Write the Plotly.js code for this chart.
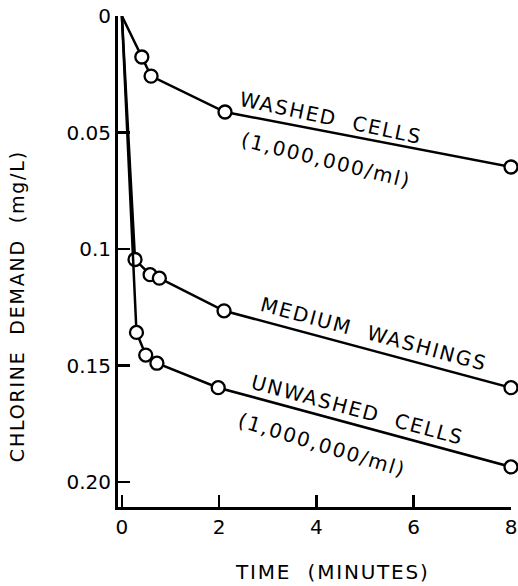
<!DOCTYPE html>
<html>
<head>
<meta charset="utf-8">
<script src="https://cdn.plot.ly/plotly-3.0.1.min.js"></script>
<style>
  html, body { margin: 0; padding: 0; background: #fff; }
  #chart { width: 518px; height: 586px; }
  .annotation-text { letter-spacing: 1.8px; }
</style>
</head>
<body>
<div id="chart"></div>
<script>
// Time (minutes) / chlorine demand (mg/L)
const washedX = [0, 0.41, 0.6, 2.12, 8.0];
const washedY = [0, 0.0176, 0.0258, 0.0412, 0.0648];

const mediumX = [0, 0.27, 0.58, 0.77, 2.1, 8.0];
const mediumY = [0, 0.1045, 0.111, 0.1125, 0.1265, 0.1595];

const unwashedX = [0, 0.3, 0.49, 0.72, 1.98, 8.0];
const unwashedY = [0, 0.1358, 0.1455, 0.149, 0.1595, 0.1935];

const xTickVals = [0, 2, 4, 6, 8];
const xTickText = ["0", "2", "4", "6", "8"];
const yTickVals = [0, 0.05, 0.1, 0.15, 0.2];
const yTickText = ["0", "0.05", "0.1", "0.15", "0.20"];

const FONT = "DejaVu Sans, sans-serif";

function series(x, y) {
  return {
    x: x, y: y, type: "scatter", mode: "lines+markers",
    line: { color: "#000", width: 2.5 },
    marker: {
      symbol: "circle",
      size: x.map((v, i) => (i === 0 ? 0 : 13)),
      color: "#ffffff",
      opacity: 1,
      line: { color: "#000000", width: 2.3 }
    },
    cliponaxis: false, showlegend: false, hoverinfo: "skip"
  };
}

const data = [
  series(washedX, washedY),
  series(mediumX, mediumY),
  series(unwashedX, unwashedY)
];

const labelFont = { family: FONT, size: 20, color: "#000" };

const layout = {
  width: 518, height: 586,
  margin: { l: 118, r: 7, t: 16, b: 79 },
  paper_bgcolor: "#fff", plot_bgcolor: "#fff",
  font: { family: FONT, color: "#000" },
  xaxis: {
    range: [-0.08, 8.0],
    tickvals: xTickVals, ticktext: xTickText,
    ticks: "inside", ticklen: 12, tickwidth: 2.5, tickcolor: "#000",
    showline: true, linecolor: "#000", linewidth: 3,
    showgrid: false, zeroline: false,
    tickfont: { family: FONT, size: 20, color: "#000" }
  },
  yaxis: {
    range: [0.2107, 0],
    tickvals: yTickVals, ticktext: yTickText,
    ticks: "inside", ticklen: 12, tickwidth: 2.5, tickcolor: "#000",
    showline: true, linecolor: "#000", linewidth: 3,
    showgrid: false, zeroline: false,
    tickfont: { family: FONT, size: 20, color: "#000" }
  },
  annotations: [
    { text: "CHLORINE  DEMAND  (mg/L)", xref: "paper", yref: "paper",
      x: -0.257, y: 0.409, xanchor: "center", yanchor: "middle",
      textangle: -90, showarrow: false,
      font: { family: FONT, size: 19, color: "#000" } },
    { text: "TIME  (MINUTES)", xref: "paper", yref: "paper",
      x: 0.547, y: -0.132, xanchor: "center", yanchor: "middle",
      showarrow: false,
      font: { family: FONT, size: 20, color: "#000" } },
    { text: "WASHED  CELLS", x: 4.29, y: 0.0438, textangle: 12, showarrow: false, font: labelFont },
    { text: "(1,000,000/ml)", x: 4.19, y: 0.0618, textangle: 14, showarrow: false, font: labelFont },
    { text: "MEDIUM  WASHINGS", x: 5.18, y: 0.1365, textangle: 15, showarrow: false, font: labelFont },
    { text: "UNWASHED  CELLS", x: 4.85, y: 0.169, textangle: 15, showarrow: false, font: labelFont },
    { text: "(1,000,000/ml)", x: 4.12, y: 0.184, textangle: 17, showarrow: false, font: labelFont }
  ]
};

Plotly.newPlot("chart", data, layout, { staticPlot: true, displayModeBar: false });
</script>
</body>
</html>
